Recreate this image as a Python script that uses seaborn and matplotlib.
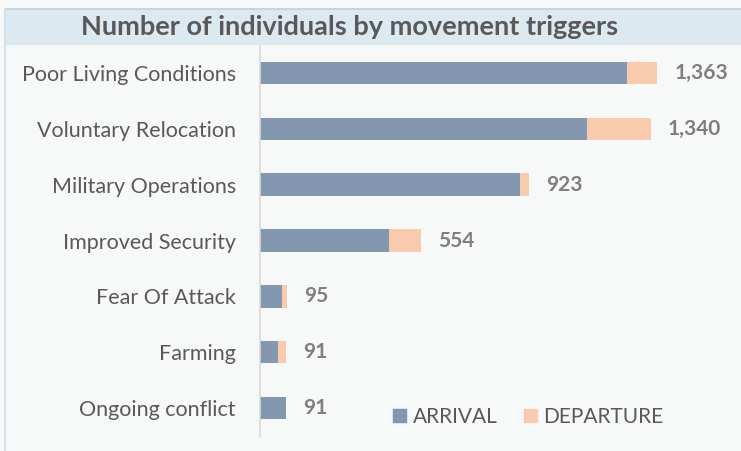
import matplotlib
matplotlib.use("Agg")
import matplotlib.pyplot as plt
import seaborn as sns
import pandas as pd
from matplotlib.patches import Rectangle
from matplotlib.lines import Line2D

categories = ["Poor Living Conditions", "Voluntary Relocation", "Military Operations",
              "Improved Security", "Fear Of Attack", "Farming", "Ongoing conflict"]
arrival = [1258, 1122, 892, 444, 77, 65, 91]
departure = [105, 218, 31, 110, 18, 26, 0]
totals = [1363, 1340, 923, 554, 95, 91, 91]
total_labels = ["1,363", "1,340", "923", "554", "95", "91", "91"]

df = pd.DataFrame({"category": categories, "arrival": arrival,
                   "departure": departure, "total": totals})
df["stack"] = df["arrival"] + df["departure"]

sns.set_theme(style="white")
plt.rcParams["font.family"] = ["Lato", "DejaVu Sans"]

C_ARR = "#8497b0"
C_DEP = "#f8cbad"
TXT = "#595959"
BG = "#f7f8f8"

fig = plt.figure(figsize=(7.41, 4.51), dpi=100, facecolor=BG)

# title band
fig.patches.append(Rectangle((5/741, 406/451), 1 - 5/741, 36/451, transform=fig.transFigure,
                             facecolor="#dde9f1", edgecolor="none", zorder=0))
fig.lines.append(Line2D([5/741, 1], [442/451, 442/451], transform=fig.transFigure,
                        color="#c3d7e5", lw=1.5))
fig.lines.append(Line2D([5/741, 5/741], [0, 442/451], transform=fig.transFigure,
                        color="#d3e2ed", lw=1.5))
fig.text(350/741, 424/451, "Number of individuals by movement triggers", ha="center",
         va="center", fontsize=19.5, fontweight="bold", color=TXT)

ax = fig.add_axes([259.5/741, 15/451, 1 - 259.5/741, 391/451])
ax.set_facecolor(BG)

sns.barplot(data=df, x="stack", y="category", color=C_DEP, width=0.4, ax=ax,
            saturation=1, linewidth=0, edgecolor="none")
sns.barplot(data=df, x="arrival", y="category", color=C_ARR, width=0.4, ax=ax,
            saturation=1, linewidth=0, edgecolor="none")

for i, (t, lab) in enumerate(zip(df["stack"], total_labels)):
    ax.annotate(lab, xy=(t, i), xytext=(12.5, 0), textcoords="offset points",
                ha="left", va="center", fontsize=15, fontweight="bold", color="#7f7f7f")

ax.set_xlim(0, 1650)
ax.set_ylim(6.5, -0.5)
ax.set_xlabel("")
ax.set_ylabel("")
ax.set_xticks([])
ax.tick_params(axis="y", length=0, pad=17, labelsize=15.5, labelcolor=TXT)
for s in ["top", "right", "bottom"]:
    ax.spines[s].set_visible(False)
ax.spines["left"].set_color("#d9d9d9")
ax.spines["left"].set_linewidth(1.2)

handles = [Rectangle((0, 0), 1, 1, color=C_ARR), Rectangle((0, 0), 1, 1, color=C_DEP)]
leg = fig.legend(handles, ["ARRIVAL", "DEPARTURE"], loc="center left",
                 bbox_to_anchor=(393/741, 34/451), bbox_transform=fig.transFigure,
                 frameon=False, ncol=2, fontsize=15, handlelength=0.62, handleheight=0.62,
                 handletextpad=0.33, columnspacing=1.25, labelcolor=TXT, borderpad=0,
                 borderaxespad=0)

fig.savefig("out.png", dpi=100, facecolor=BG)
